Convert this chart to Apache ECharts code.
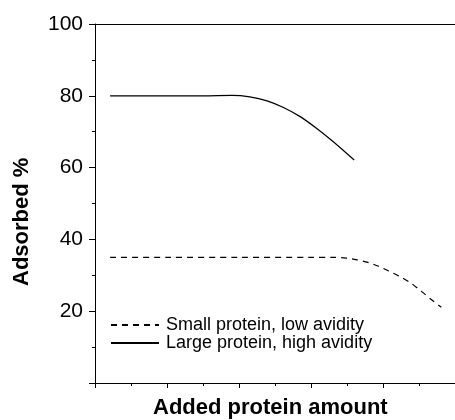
<!DOCTYPE html>
<html>
<head>
<meta charset="utf-8">
<script src="https://cdn.jsdelivr.net/npm/echarts@6/dist/echarts.min.js"></script>
<style>html,body{margin:0;padding:0;background:#fff;}#c{width:455px;height:420px;}</style>
</head>
<body>
<div id="c"></div>
<script>
var yTicks = [0, 20, 40, 60, 80, 100];
var smallName = 'Small protein, low avidity';
var largeName = 'Large protein, high avidity';
var xTitle = 'Added protein amount';
var yTitle = 'Adsorbed %';
var smallX = [0.21, 1.0, 2.0, 3.0, 3.31, 3.49, 3.64, 3.79, 3.93, 4.08, 4.24, 4.39, 4.53, 4.68, 4.81];
var smallY = [35, 35, 35, 35, 35.0, 34.8, 34.3, 33.6, 32.6, 31.2, 29.6, 27.8, 25.6, 23.1, 21.1];
var largeX = [0.21, 0.8, 1.5, 1.9, 2.15, 2.39, 2.61, 2.85, 3.08, 3.31, 3.60];
var largeY = [80, 80, 80, 80.1, 79.7, 78.6, 76.8, 74.2, 70.9, 67.2, 62.1];

function pairs(xs, ys) { return xs.map(function (x, i) { return [x, ys[i]]; }); }
var font = '"Liberation Sans", Arial, sans-serif';
var chart = echarts.init(document.getElementById('c'), null, {renderer: 'canvas'});
chart.setOption({
  animation: false,
  backgroundColor: '#fff',
  grid: {left: 95, right: 0, top: 24, bottom: 37},
  xAxis: [{
    type: 'value', min: 0, max: 5, interval: 1,
    axisLine: {lineStyle: {color: '#000', width: 1}},
    axisTick: {show: true, length: 5, lineStyle: {color: '#000'}},
    minorTick: {show: true, splitNumber: 2, length: 3, lineStyle: {color: '#000'}},
    axisLabel: {show: false},
    splitLine: {show: false}
  }, {
    type: 'value', min: 0, max: 5, position: 'top',
    axisLine: {show: true, lineStyle: {color: '#000', width: 1}},
    axisTick: {show: false}, axisLabel: {show: false}, splitLine: {show: false}
  }],
  yAxis: {
    type: 'value', min: yTicks[0], max: yTicks[yTicks.length - 1], interval: 20,
    axisLine: {show: true, lineStyle: {color: '#000', width: 1}},
    axisTick: {show: true, length: 6, lineStyle: {color: '#000'}},
    minorTick: {show: true, splitNumber: 2, length: 3, lineStyle: {color: '#000'}},
    axisLabel: {color: '#000', fontSize: 21, fontFamily: font, margin: 12,
      formatter: function (v) { return v === 0 ? '' : String(v); }},
    splitLine: {show: false}
  },
  legend: {
    orient: 'vertical', left: 110, top: 316, padding: 0, itemWidth: 48, itemHeight: 18, itemGap: 0,
    textStyle: {color: '#000', fontSize: 18, fontFamily: font, padding: [0, 0, 0, 2]},
    itemStyle: {opacity: 0},
    data: [smallName, largeName]
  },
  graphic: [
    {type: 'text', left: 153, top: 397, style: {text: xTitle, fill: '#000', font: 'bold 22px ' + font}},
    {type: 'text', x: 11, y: 286, rotation: Math.PI / 2, style: {text: yTitle, fill: '#000', font: 'bold 22px ' + font}}
  ],
  series: [
    {name: smallName, type: 'line', data: pairs(smallX, smallY), smooth: 0.3, showSymbol: false, symbol: 'none',
      lineStyle: {color: '#000', width: 1.2, type: [6, 5]}, itemStyle: {color: '#000'}},
    {name: largeName, type: 'line', data: pairs(largeX, largeY), smooth: 0.3, showSymbol: false, symbol: 'none',
      lineStyle: {color: '#000', width: 1.2, type: 'solid'}, itemStyle: {color: '#000'}}
  ]
});
</script>
</body>
</html>
